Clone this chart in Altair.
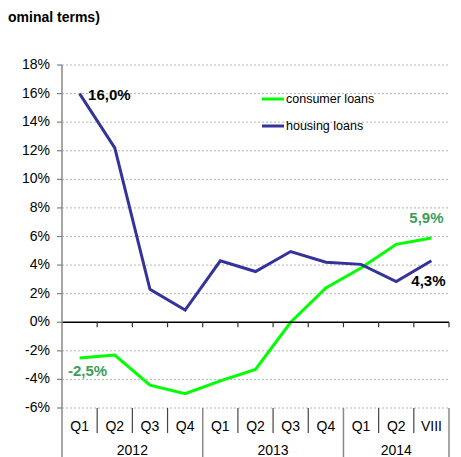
import altair as alt
import pandas as pd

periods = ["Q1", "Q2", "Q3", "Q4", "Q1", "Q2", "Q3", "Q4", "Q1", "Q2", "VIII"]
years = ["2012", "2013", "2014"]
year_start = [0, 4, 8]
year_end = [4, 8, 11]
consumer = [-2.5, -2.3, -4.4, -5.0, -4.1, -3.3, 0.0, 2.4, 3.8, 5.45, 5.9]
housing = [16.0, 12.2, 2.3, 0.85, 4.3, 3.55, 4.95, 4.2, 4.05, 2.85, 4.3]
y_ticks = [-6, -4, -2, 0, 2, 4, 6, 8, 10, 12, 14, 16, 18]

W, H = 387, 343
FONT = "Liberation Sans"
GREEN = "#00ff00"
BLUE = "#333399"
LABEL_GREEN = "#3a9d5d"

rows = []
for i, p in enumerate(periods):
    rows.append({"pos": i + 0.5, "period": p, "series": "consumer loans", "value": consumer[i]})
    rows.append({"pos": i + 0.5, "period": p, "series": "housing loans", "value": housing[i]})
df = pd.DataFrame(rows)

xs = alt.Scale(domain=[0, 11], nice=False, zero=False)
ys = alt.Scale(domain=[-6, 18], nice=False, zero=False)


def X(f):
    return alt.X(f, scale=xs, axis=None)


def Y(f):
    return alt.Y(f, scale=ys, axis=None)


# manual y axis: grid, tick marks, labels
grid_df = pd.DataFrame({"v": [v for v in y_ticks if v != 0], "x0": 0, "x1": 11})
grid = alt.Chart(grid_df).mark_rule(color="#b5b5b5", strokeWidth=1, strokeDash=[2, 2]).encode(
    x=X("x0:Q"), x2="x1:Q", y=Y("v:Q"))

tick_df = pd.DataFrame({"v": y_ticks, "lab": [f"{v}%" for v in y_ticks]})
yticks = alt.Chart(tick_df).mark_rule(color="#808080", strokeWidth=1.2).encode(
    x=alt.value(-5), x2=alt.value(0), y=Y("v:Q"))
ylabels = alt.Chart(tick_df).mark_text(font=FONT, fontSize=14, color="#000", align="right",
                                       baseline="middle").encode(
    x=alt.value(-12), y=Y("v:Q"), text="lab:N")

lines = alt.Chart(df).mark_line(strokeWidth=3).encode(
    x=X("pos:Q"),
    y=Y("value:Q"),
    color=alt.Color("series:N", scale=alt.Scale(domain=["consumer loans", "housing loans"],
                                                 range=[GREEN, BLUE]), legend=None),
)

zero_df = pd.DataFrame({"x": [0], "x2": [11], "y": [0]})
zero_line = alt.Chart(zero_df).mark_rule(color="#000", strokeWidth=1.5).encode(
    x=X("x:Q"), x2="x2:Q", y=Y("y:Q"))

edges = pd.DataFrame({"e": list(range(1, 12)), "y": [0] * 11, "yb": [-0.35] * 11})
zero_ticks = alt.Chart(edges).mark_rule(color="#333", strokeWidth=1.2).encode(
    x=X("e:Q"), y=Y("y:Q"), y2="yb:Q")

one = pd.DataFrame({"a": [0]})
left_axis = alt.Chart(one).mark_rule(color="#888", strokeWidth=1.5).encode(
    x=alt.value(0), y=alt.value(0), y2=alt.value(H + 49))

minor = pd.DataFrame({"e": [1, 2, 3, 5, 6, 7, 9, 10], "y": [-6] * 8})
minor_sep = alt.Chart(minor).mark_rule(color="#444", strokeWidth=1.2).encode(
    x=X("e:Q"), y=Y("y:Q"), y2=alt.value(H + 25))
major = pd.DataFrame({"e": [4, 8, 11], "y": [-6] * 3})
major_sep = alt.Chart(major).mark_rule(color="#888", strokeWidth=1.5).encode(
    x=X("e:Q"), y=Y("y:Q"), y2=alt.value(H + 49))

cat_df = pd.DataFrame({"pos": [i + 0.5 for i in range(len(periods))], "label": periods})
cat_text = alt.Chart(cat_df).mark_text(font=FONT, fontSize=14, color="#000", baseline="middle").encode(
    x=X("pos:Q"), y=alt.value(H + 19), text="label:N")

yr_df = pd.DataFrame({"mid": [(a + b) / 2 for a, b in zip(year_start, year_end)], "label": years})
yr_text = alt.Chart(yr_df).mark_text(font=FONT, fontSize=14, color="#000", baseline="middle").encode(
    x=X("mid:Q"), y=alt.value(H + 43), text="label:N")


def vlabel(pos, val, txt, color, dx, dy, align="center"):
    d = pd.DataFrame({"pos": [pos], "value": [val], "t": [txt]})
    return alt.Chart(d).mark_text(font=FONT, fontSize=15, fontWeight="bold", color=color,
                                  align=align, baseline="middle", dx=dx, dy=dy).encode(
        x=X("pos:Q"), y=Y("value:Q"), text="t:N")


lab1 = vlabel(0.5, housing[0], "16,0%", "#000", 8.5, 1, "left")
lab2 = vlabel(0.5, consumer[0], "-2,5%", LABEL_GREEN, 8, 13)
lab3 = vlabel(10.5, consumer[-1], "5,9%", LABEL_GREEN, -5, -19.5)
lab4 = vlabel(10.5, housing[-1], "4,3%", "#000", -3, 20.5)


def legend_item(name, color, ypix):
    d = pd.DataFrame({"t": [name]})
    ln = alt.Chart(d).mark_rule(strokeWidth=3, color=color).encode(
        x=alt.value(200), x2=alt.value(222), y=alt.value(ypix))
    tx = alt.Chart(d).mark_text(font=FONT, fontSize=12.5, color="#000", align="left",
                                baseline="middle").encode(
        x=alt.value(224), y=alt.value(ypix), text="t:N")
    return [ln, tx]


leg = legend_item("consumer loans", GREEN, 34) + legend_item("housing loans", BLUE, 61)

title_df = pd.DataFrame({"t": ["ominal terms)"]})
title = alt.Chart(title_df).mark_text(font=FONT, fontSize=14, fontWeight="bold", color="#000",
                                      align="left", baseline="middle").encode(
    x=alt.value(-54), y=alt.value(-47), text="t:N")

chart = alt.layer(
    grid, yticks, ylabels, lines, zero_line, zero_ticks, left_axis, minor_sep, major_sep,
    cat_text, yr_text, lab1, lab2, lab3, lab4, *leg, title
).properties(
    width=W, height=H,
    padding={"left": 54, "top": 57, "right": 4, "bottom": 49},
    autosize=alt.AutoSizeParams(type="none"),
).configure_view(stroke=None)

chart.save("out.html", embed_options={"renderer": "svg", "actions": False})
